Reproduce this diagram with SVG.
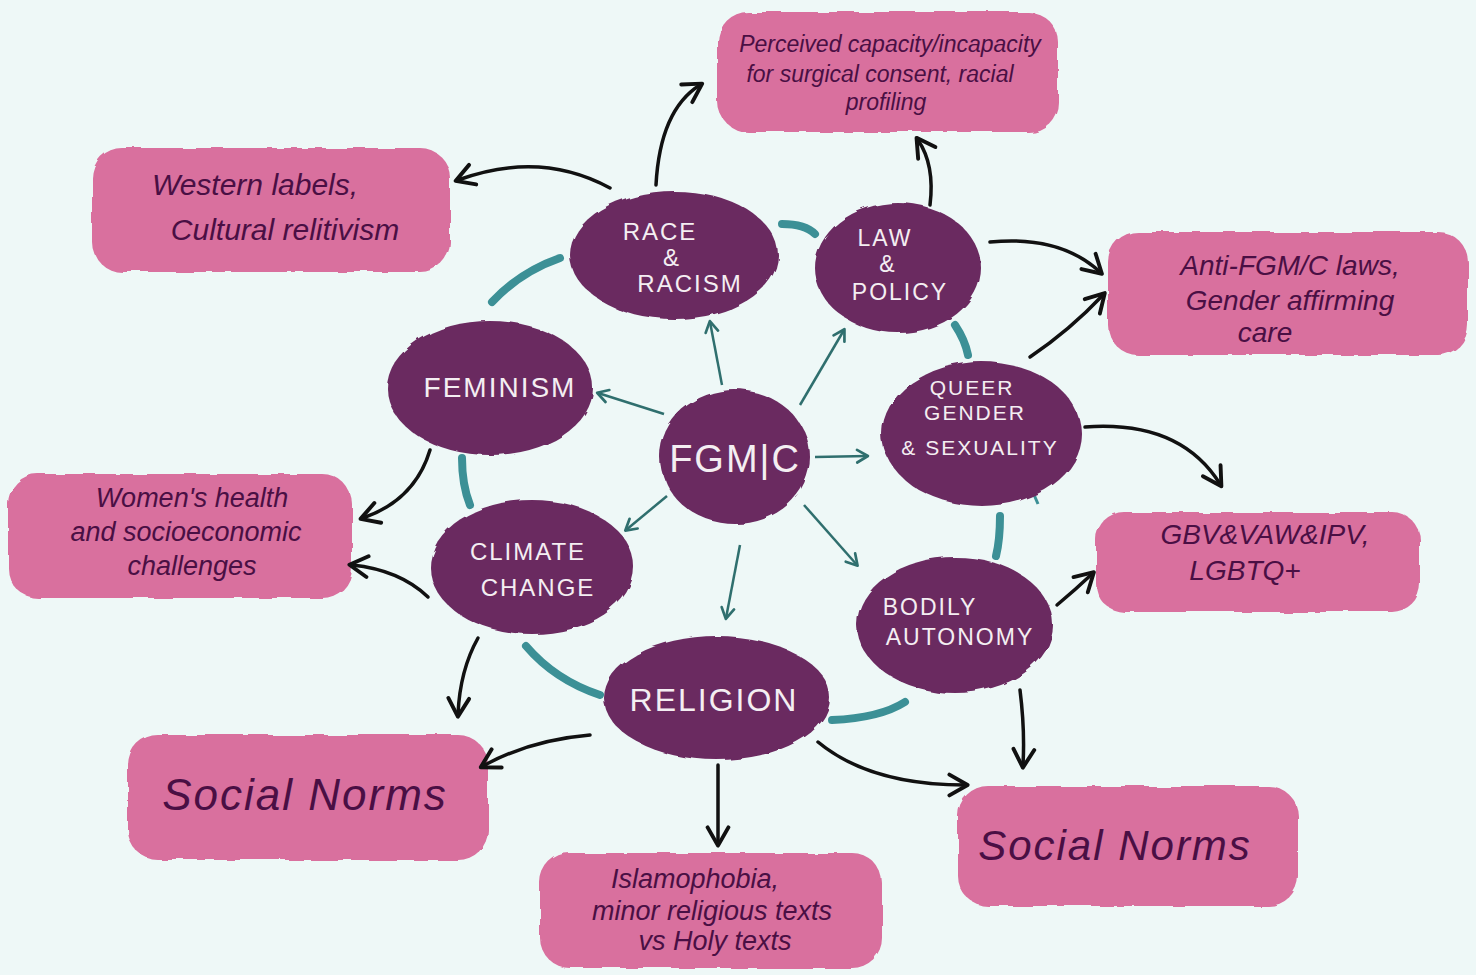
<svg xmlns="http://www.w3.org/2000/svg" width="1476" height="975" viewBox="0 0 1476 975">
<defs>
<marker id="ah" viewBox="0 0 20 20" refX="14" refY="10" markerWidth="26" markerHeight="26" markerUnits="userSpaceOnUse" orient="auto">
<path d="M2,2 L16,10 L2,18" fill="none" stroke="#111" stroke-width="3" stroke-linecap="round" stroke-linejoin="round"/>
</marker>
<marker id="at" viewBox="0 0 20 20" refX="14" refY="10" markerWidth="18" markerHeight="18" markerUnits="userSpaceOnUse" orient="auto">
<path d="M3,3 L15,10 L3,17" fill="none" stroke="#2f6f6e" stroke-width="3" stroke-linecap="round" stroke-linejoin="round"/>
</marker>
<filter id="rough" x="-5%" y="-5%" width="110%" height="110%">
<feTurbulence type="fractalNoise" baseFrequency="0.04" numOctaves="2" seed="3"/>
<feDisplacementMap in="SourceGraphic" scale="6"/>
</filter>
</defs>
<style>
.bg{fill:#eef8f7}
.box{fill:#d9709e;filter:url(#rough)}
.node{fill:#6b2a60;filter:url(#rough)}
.bt{font-family:"Liberation Sans","DejaVu Sans",sans-serif;font-style:italic;fill:#4a0f44;text-anchor:middle}
.nt{font-family:"Liberation Sans","DejaVu Sans",sans-serif;fill:#f4eef2;text-anchor:middle;letter-spacing:2px}
.ring{fill:none;stroke:#3c9096;stroke-width:8;stroke-linecap:round}
.ta{fill:none;stroke:#2f6f6e;stroke-width:2.5;marker-end:url(#at)}
.ba{fill:none;stroke:#111;stroke-width:3.5;stroke-linecap:round;marker-end:url(#ah)}
</style>
<rect class="bg" x="0" y="0" width="1476" height="975"/>

<g id="ring">
<path class="ring" d="M492,302 Q520,272 560,258"/>
<path class="ring" d="M782,224 Q805,224 815,234"/>
<path class="ring" d="M955,325 Q965,340 968,355"/>
<path class="ring" d="M1000,516 Q1000,540 996,556"/>
<path class="ring" d="M905,702 Q880,718 832,720"/>
<path class="ring" d="M600,695 Q555,680 526,646"/>
<path class="ring" d="M462,458 Q462,485 470,505"/>
<path d="M1032,490 L1038,504" stroke="#3c9096" stroke-width="3" fill="none"/>
</g>

<g id="box-perceived"><rect class="box" x="718" y="12" width="340" height="120" rx="30"/>
<text class="bt" font-size="23"><tspan x="890" y="52">Perceived capacity/incapacity</tspan><tspan x="880" y="82">for surgical consent, racial</tspan><tspan x="886" y="110">profiling</tspan></text></g>

<g id="box-western"><rect class="box" x="92" y="148" width="358" height="124" rx="30"/>
<text class="bt" font-size="30"><tspan x="255" y="195">Western labels,</tspan><tspan x="285" y="240">Cultural relitivism</tspan></text></g>

<g id="box-anti"><rect class="box" x="1108" y="232" width="360" height="123" rx="30"/>
<text class="bt" font-size="28"><tspan x="1290" y="275">Anti-FGM/C laws,</tspan><tspan x="1290" y="310">Gender affirming</tspan><tspan x="1265" y="342">care</tspan></text></g>

<g id="box-women"><rect class="box" x="8" y="474" width="344" height="124" rx="30"/>
<text class="bt" font-size="27"><tspan x="192" y="507">Women's health</tspan><tspan x="186" y="541">and   socioeconomic</tspan><tspan x="192" y="575">challenges</tspan></text></g>

<g id="box-gbv"><rect class="box" x="1096" y="512" width="324" height="100" rx="28"/>
<text class="bt" font-size="28"><tspan x="1265" y="544">GBV&amp;VAW&amp;IPV,</tspan><tspan x="1245" y="580">LGBTQ+</tspan></text></g>

<g id="box-social-left"><rect class="box" x="128" y="735" width="360" height="125" rx="30"/>
<text class="bt" font-size="44" letter-spacing="2"><tspan x="305" y="810">Social Norms</tspan></text></g>

<g id="box-social-right"><rect class="box" x="958" y="786" width="340" height="120" rx="30"/>
<text class="bt" font-size="42" letter-spacing="2"><tspan x="1115" y="860">Social Norms</tspan></text></g>

<g id="box-islam"><rect class="box" x="540" y="853" width="342" height="115" rx="30"/>
<text class="bt" font-size="27"><tspan x="695" y="888">Islamophobia,</tspan><tspan x="712" y="920">minor religious texts</tspan><tspan x="715" y="950">vs Holy texts</tspan></text></g>

<g id="node-race"><ellipse class="node" cx="674" cy="255" rx="104" ry="64"/>
<text class="nt" font-size="24"><tspan x="660" y="240">RACE</tspan><tspan x="672" y="266">&amp;</tspan><tspan x="690" y="292">RACISM</tspan></text></g>

<g id="node-law"><ellipse class="node" cx="898" cy="268" rx="83" ry="65"/>
<text class="nt" font-size="23"><tspan x="885" y="246">LAW</tspan><tspan x="888" y="272">&amp;</tspan><tspan x="900" y="300">POLICY</tspan></text></g>

<g id="node-feminism"><ellipse class="node" cx="490" cy="388" rx="103" ry="67"/>
<text class="nt" font-size="28"><tspan x="500" y="397">FEMINISM</tspan></text></g>

<g id="node-fgmc"><ellipse class="node" cx="735" cy="457" rx="75" ry="67"/>
<text class="nt" font-size="38"><tspan x="735" y="472">FGM|C</tspan></text></g>

<g id="node-queer"><ellipse class="node" cx="982" cy="434" rx="100" ry="72"/>
<text class="nt" font-size="21"><tspan x="972" y="395">QUEER</tspan><tspan x="975" y="420">GENDER</tspan><tspan x="980" y="455">&amp; SEXUALITY</tspan></text></g>

<g id="node-climate"><ellipse class="node" cx="532" cy="567" rx="102" ry="67"/>
<text class="nt" font-size="24"><tspan x="528" y="560">CLIMATE</tspan><tspan x="538" y="596">CHANGE</tspan></text></g>

<g id="node-bodily"><ellipse class="node" cx="955" cy="625" rx="98" ry="68"/>
<text class="nt" font-size="23"><tspan x="930" y="615">BODILY</tspan><tspan x="960" y="645">AUTONOMY</tspan></text></g>

<g id="node-religion"><ellipse class="node" cx="717" cy="698" rx="113" ry="62"/>
<text class="nt" font-size="32"><tspan x="714" y="711">RELIGION</tspan></text></g>

<g id="connectors">
<path class="ta" d="M722,385 L710,322"/>
<path class="ta" d="M800,405 L844,330"/>
<path class="ta" d="M664,414 L598,393"/>
<path class="ta" d="M815,457 L867,456"/>
<path class="ta" d="M667,496 L626,530"/>
<path class="ta" d="M740,545 L726,618"/>
<path class="ta" d="M804,505 L857,565"/>

<path class="ba" d="M656,185 Q660,110 700,85"/>
<path class="ba" d="M610,188 Q540,150 458,180"/>
<path class="ba" d="M930,205 Q935,165 918,140"/>
<path class="ba" d="M990,242 Q1060,235 1100,272"/>
<path class="ba" d="M1030,357 Q1070,330 1103,295"/>
<path class="ba" d="M1085,427 Q1180,420 1220,484"/>
<path class="ba" d="M1057,605 Q1075,590 1092,574"/>
<path class="ba" d="M1020,690 Q1025,730 1023,765"/>
<path class="ba" d="M818,742 Q870,785 965,785"/>
<path class="ba" d="M718,765 L718,843"/>
<path class="ba" d="M590,735 Q530,740 483,766"/>
<path class="ba" d="M478,638 Q460,670 458,714"/>
<path class="ba" d="M428,597 Q400,570 352,565"/>
<path class="ba" d="M430,450 Q415,500 363,518"/>
</g>
</svg>
